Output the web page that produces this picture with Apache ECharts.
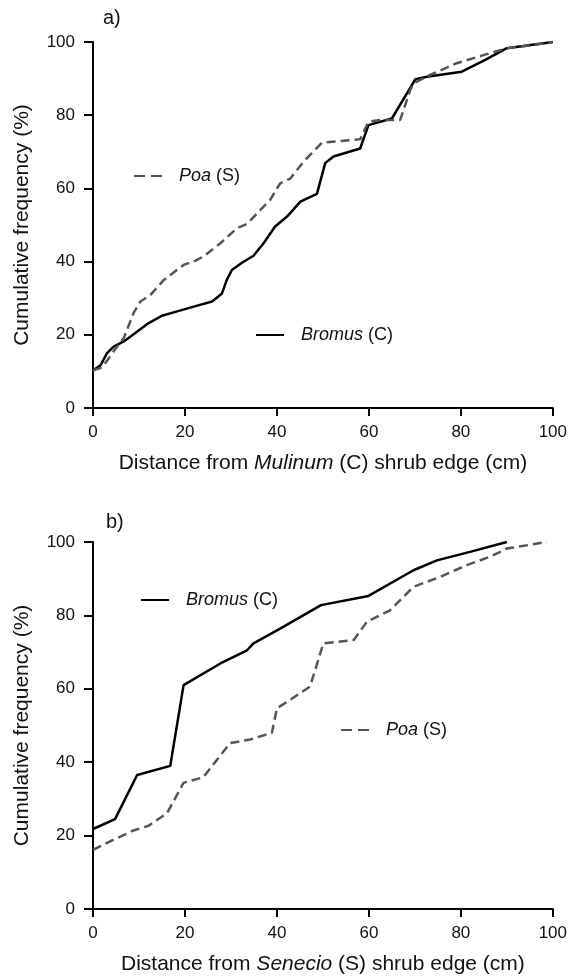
<!DOCTYPE html>
<html>
<head>
<meta charset="utf-8">
<title>Cumulative frequency</title>
<script src="https://cdn.jsdelivr.net/npm/echarts@6/dist/echarts.min.js"></script>
<style>
    html, body { margin: 0; padding: 0; background: #fff; }
    #chart { width: 570px; height: 976px; }
</style>
</head>
<body>
<div id="chart"></div>
<script>
    // panel a: distance from Mulinum (C)
    var bromusA = [[0,10.3],[1.6,11.6],[3,14.9],[4.5,16.8],[6.7,18.2],[9.2,20.5],[12.1,23.2],[15,25.2],[18.3,26.4],[21.9,27.7],[25.9,29.1],[28,31.2],[29.1,35],[30.2,37.7],[32.4,39.7],[34.9,41.6],[37.1,45],[39.6,49.6],[42.2,52.3],[45.1,56.4],[48.7,58.5],[50.5,66.9],[52.3,68.7],[58.1,70.9],[59.9,77.3],[65,79.1],[70.1,89.8],[72.6,90.5],[80.2,91.9],[85.3,95.1],[90,98.3],[100,100]];
    var poaA = [[0,10.3],[1.6,10.9],[2.7,12.3],[4.5,15.5],[6.7,19.1],[8.8,25.9],[10.3,29.1],[12.5,30.9],[15.4,35],[19.7,39.1],[22.2,40.2],[24,41.4],[27.7,45],[31.3,49.1],[33.5,50.3],[36.4,54.1],[38.5,56.8],[40.7,61.4],[42.9,62.7],[45.8,67.3],[49.8,72.5],[58.1,73.4],[59.9,78.2],[62.5,78.7],[66.8,78.7],[69,86.9],[69.7,88.7],[73.3,91],[79.1,94.2],[84.9,96.4],[90,98.3],[95.8,99.2],[100,100]];
    // panel b: distance from Senecio (S)
    var bromusB = [[0,21.8],[4.8,24.5],[9.6,36.5],[16.8,39],[19.7,61],[27.7,66.9],[33.5,70.5],[34.9,72.4],[40.7,76.4],[49.6,82.8],[59.9,85.3],[69.7,92.3],[74.8,95],[82,97.3],[90,100]];
    var poaB = [[0,16.1],[4.5,18.9],[8.8,21.4],[12.1,22.7],[16.1,26.1],[19.7,34.4],[24,35.9],[29.8,45.2],[34.2,46.2],[38.9,48],[40,54.7],[42.9,57],[47.2,60.6],[50.1,72.4],[56.7,73.3],[59.6,78.3],[64.6,81.4],[69.7,87.8],[75.5,90.5],[81.3,93.7],[86.4,96],[90,98.2],[98.7,100]];

    var xTicks = [0, 20, 40, 60, 80, 100];
    var yTicks = [0, 20, 40, 60, 80, 100];

    var chart = echarts.init(document.getElementById('chart'));
    var font = 'Liberation Sans, Arial, sans-serif';

    function xAxis(idx, nameRich) {
        return {
            type: 'value', gridIndex: idx, min: 0, max: 100, interval: 20,
            name: nameRich, nameLocation: 'middle', nameGap: 45,
            nameTextStyle: {
                color: '#111', fontSize: 21, fontFamily: font,
                rich: { i: { fontStyle: 'italic', fontSize: 21, fontFamily: font, color: '#111' } }
            },
            axisLine: { lineStyle: { color: '#000', width: 2 } },
            axisTick: { length: 8, lineStyle: { color: '#000', width: 2 } },
            axisLabel: { color: '#111', fontSize: 17, fontFamily: font, margin: 16,
                formatter: function (v) { return xTicks.indexOf(v) >= 0 ? v : ''; } },
            splitLine: { show: false }
        };
    }
    function yAxis(idx) {
        return {
            type: 'value', gridIndex: idx, min: 0, max: 100, interval: 20,
            name: 'Cumulative frequency (%)', nameLocation: 'middle', nameGap: 60,
            nameTextStyle: { color: '#111', fontSize: 21, fontFamily: font },
            axisLine: { lineStyle: { color: '#000', width: 2 } },
            axisTick: { length: 9, lineStyle: { color: '#000', width: 2 } },
            axisLabel: { color: '#111', fontSize: 17, fontFamily: font, margin: 18,
                formatter: function (v) { return yTicks.indexOf(v) >= 0 ? v : ''; } },
            splitLine: { show: false }
        };
    }
    function legendItem(name, left, top) {
        var isPoa = name.indexOf('Poa') === 0;
        return {
            data: [name], left: left, top: top, itemWidth: 28, itemHeight: 10, itemGap: 0,
            selectedMode: false,
            itemStyle: { opacity: 0 },
            lineStyle: isPoa ? { type: [11, 6] } : {},
            formatter: function (n) {
                return isPoa ? '{i|Poa} (S)' : '{i|Bromus} (C)';
            },
            textStyle: { color: '#111', fontSize: 18, fontFamily: font, padding: [0, 0, 0, 12],
                rich: { i: { fontStyle: 'italic', fontSize: 18, fontFamily: font, color: '#111' } } }
        };
    }
    var solid = { color: '#000', width: 2.5, type: 'solid' };
    var dashed = { color: '#555', width: 2.5, type: [9, 5] };

    var option = {
        animation: false,
        title: [
            { text: 'a)', left: 98, top: 3, textStyle: { fontSize: 20, fontWeight: 'normal', color: '#111', fontFamily: font } },
            { text: 'b)', left: 101, top: 507, textStyle: { fontSize: 20, fontWeight: 'normal', color: '#111', fontFamily: font } }
        ],
        grid: [
            { left: 93, width: 460, top: 42, height: 366 },
            { left: 93, width: 460, top: 542, height: 367 }
        ],
        xAxis: [
            xAxis(0, 'Distance from {i|Mulinum} (C) shrub edge (cm)'),
            xAxis(1, 'Distance from {i|Senecio} (S) shrub edge (cm)')
        ],
        yAxis: [yAxis(0), yAxis(1)],
        legend: [
            legendItem('Poa (S) a', 128, 162),
            legendItem('Bromus (C) a', 250, 321),
            legendItem('Bromus (C) b', 135, 586),
            legendItem('Poa (S) b', 335, 716)
        ],
        series: [
            { name: 'Bromus (C) a', type: 'line', xAxisIndex: 0, yAxisIndex: 0, data: bromusA, symbol: 'none', lineStyle: solid, itemStyle: { color: '#000' } },
            { name: 'Poa (S) a', type: 'line', xAxisIndex: 0, yAxisIndex: 0, data: poaA, symbol: 'none', lineStyle: dashed, itemStyle: { color: '#555' } },
            { name: 'Bromus (C) b', type: 'line', xAxisIndex: 1, yAxisIndex: 1, data: bromusB, symbol: 'none', lineStyle: solid, itemStyle: { color: '#000' } },
            { name: 'Poa (S) b', type: 'line', xAxisIndex: 1, yAxisIndex: 1, data: poaB, symbol: 'none', lineStyle: dashed, itemStyle: { color: '#555' } }
        ]
    };
    chart.setOption(option);
</script>
</body>
</html>
